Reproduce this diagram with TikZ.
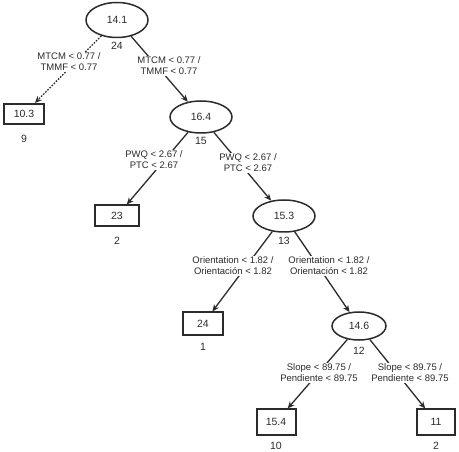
\documentclass[tikz,border=0pt]{standalone}
\usepackage{fontspec}
\setmainfont{Liberation Sans}
\usetikzlibrary{arrows.meta, positioning, shapes.geometric}
\definecolor{inkgray}{HTML}{2B2B2B}

\begin{document}
\begin{tikzpicture}[x=1pt, y=-1pt,
  >={Stealth[length=7pt, width=6pt]},
  every node/.style={text=inkgray},
  split/.style={ellipse, draw=inkgray, line width=1.5pt, minimum width=62pt, minimum height=32pt, inner sep=0pt, font=\fontsize{10.5}{12}\selectfont},
  leaf/.style={rectangle, draw=inkgray, line width=2pt, minimum width=40pt, minimum height=23pt, inner sep=0pt, font=\fontsize{10.5}{12}\selectfont},
  count/.style={inner sep=0pt, font=\fontsize{10.5}{12}\selectfont},
  rule/.style={fill=white, align=center, inner sep=1pt, font=\fontsize{9.5}{11}\selectfont},
  branch/.style={draw=inkgray, line width=1.3pt, ->},
]

% Frame
\useasboundingbox (0,0) rectangle (459,452);

% Split nodes
\node[split, minimum height=35pt] (s1) at (117,20) {14.1};
\node[split] (s2) at (201,117) {16.4};
\node[split] (s3) at (284,216) {15.3};
\node[split, minimum width=54pt, minimum height=28pt] (s4) at (359,326) {14.6};

% Leaf nodes
\node[leaf, minimum height=20pt] (l1) at (24,114) {10.3};
\node[leaf, minimum width=44pt, minimum height=21pt] (l2) at (117,216) {23};
\node[leaf] (l3) at (203,324) {24};
\node[leaf, minimum width=39pt, minimum height=25pt] (l4) at (276,422) {15.4};
\node[leaf, minimum width=38pt, minimum height=25pt] (l5) at (436,422) {11};

% Sample counts
\node[count] (c1) at (117,46) {24};
\node[count] (c2) at (201,141) {15};
\node[count] (c3) at (284,241) {13};
\node[count] (c4) at (359,351) {12};
\node[count] (n1) at (24,139) {9};
\node[count] (n2) at (117,241) {2};
\node[count] (n3) at (203,347) {1};
\node[count] (n4) at (276,446) {10};
\node[count] (n5) at (436,446) {2};

% Branches
\draw[branch, dash pattern=on 1.6pt off 1.4pt] (s1) -- (l1);
\draw[branch] (s1) -- (s2);
\draw[branch] (s2) -- (l2);
\draw[branch] (s2) -- (s3);
\draw[branch] (s3) -- (l3);
\draw[branch] (s3) -- (s4);
\draw[branch] (s4) -- (l4);
\draw[branch] (s4) -- (l5);

% Split rules
\node[rule] (r1) at (69,62) {MTCM < 0.77 /\\TMMF < 0.77};
\node[rule] (r2) at (169,66) {MTCM < 0.77 /\\TMMF < 0.77};
\node[rule] (r3) at (154,160) {PWQ < 2.67 /\\PTC < 2.67};
\node[rule] (r4) at (248,163) {PWQ < 2.67 /\\PTC < 2.67};
\node[rule] (r5) at (233,266) {Orientation < 1.82 /\\Orientación < 1.82};
\node[rule] (r6) at (329,266) {Orientation < 1.82 /\\Orientación < 1.82};
\node[rule] (r7) at (319,373) {Slope < 89.75 /\\Pendiente < 89.75};
\node[rule] (r8) at (410,373) {Slope < 89.75 /\\Pendiente < 89.75};

\end{tikzpicture}
\end{document}
